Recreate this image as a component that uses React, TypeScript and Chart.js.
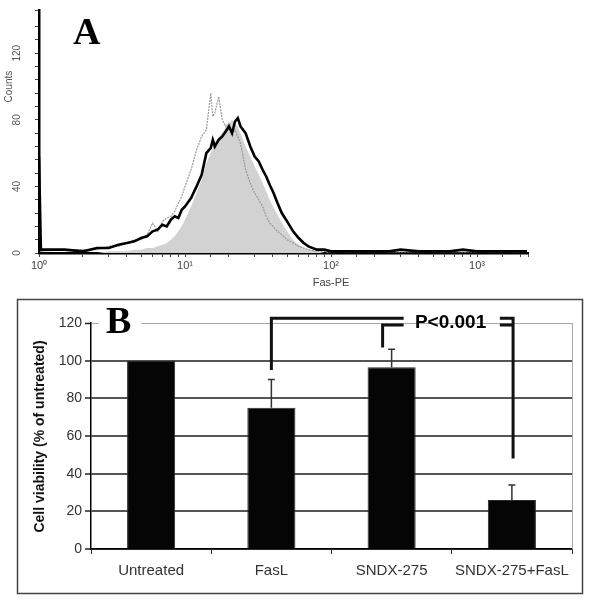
import React, { useEffect, useRef } from 'react';
import { Chart, registerables } from 'chart.js';
Chart.register(...registerables);

// ---------- Panel A : Fas-PE histogram ----------
const channels = [1, 1.03, 1.5, 2, 2.5, 3, 3.5, 4, 4.5, 5,
  5.5, 6, 6.5, 7, 7.5, 8, 8.5, 9, 9.5, 10,
  11, 12, 13, 14, 15, 15.5, 16, 17, 18, 19,
  20, 21, 22, 23, 24, 26, 28, 30, 32, 34,
  36, 38, 40, 43, 46, 50, 55, 60, 65, 70,
  80, 90, 100, 120, 150, 200, 250, 300, 400, 500,
  650, 800, 1000, 1500, 2200];

const solidCounts = [58, 2, 2, 1, 3, 3, 5, 6, 7, 9,
  10, 13, 14, 17, 16, 20, 22, 21, 26, 28,
  33, 40, 47, 60, 63, 68, 64, 68, 70, 73,
  76, 72, 79, 81, 76, 72, 64, 58, 55, 50,
  46, 41, 37, 30, 24, 19, 13, 9, 6, 4,
  2, 2, 1, 1, 1, 1, 1, 2, 1, 1,
  1, 2, 1, 1, 1];

const dottedCounts = [30, 1, 2, 2, 2, 4, 4, 6, 8, 8,
  11, 18, 13, 19, 21, 22, 25, 30, 34, 40,
  50, 62, 70, 74, 96, 82, 84, 94, 80, 76,
  78, 72, 74, 70, 66, 50, 42, 36, 32, 28,
  22, 18, 16, 13, 11, 8, 6, 4, 3, 2,
  1, 1, 0, 0, 0, 0, 0, 0, 0, 0,
  0, 0, 0, 0, 0];

const filledCounts = [0, 0, 0, 0, 0, 1, 1, 1, 2, 2,
  3, 3, 4, 5, 6, 8, 10, 13, 16, 20,
  28, 36, 44, 54, 60, 63, 66, 70, 72, 76,
  78, 80, 78, 76, 72, 64, 58, 52, 47, 42,
  37, 32, 28, 23, 18, 13, 8, 5, 3, 2,
  1, 0, 0, 0, 0, 0, 0, 0, 0, 0,
  0, 0, 0, 0, 0];

const countTickLabels = [0, 40, 80, 120];
const decadeLabels: Record<number, string> = { 1: '10⁰', 10: '10¹', 100: '10²', 1000: '10³' };

// ---------- Panel B : viability bars ----------
const categories = ['Untreated', 'FasL', 'SNDX-275', 'SNDX-275+FasL'];
const viability = [100, 75, 96.5, 26];
const viabilityErr = [0, 15, 9.5, 8];

const SANS = '"Liberation Sans", Arial, sans-serif';
const SERIF = '"Liberation Serif", "Times New Roman", serif';

const toPts = (ys: number[]) => channels.map((c, i) => ({ x: c, y: ys[i] }));

const panelAPlugin = {
  id: 'panelA',
  afterDraw(chart: any) {
    const ctx = chart.ctx;
    const ys = chart.scales.y;
    const xs = chart.scales.x;
    ctx.save();
    ctx.fillStyle = '#555';
    ctx.font = `10px ${SANS}`;
    ctx.textAlign = 'center';
    ctx.textBaseline = 'middle';
    countTickLabels.forEach((v) => {
      ctx.save();
      ctx.translate(17, ys.getPixelForValue(v));
      ctx.rotate(-Math.PI / 2);
      ctx.fillText(String(v), 0, 0);
      ctx.restore();
    });
    ctx.save();
    ctx.translate(9, ys.getPixelForValue(100));
    ctx.rotate(-Math.PI / 2);
    ctx.fillText('Counts', 0, 0);
    ctx.restore();
    ctx.fillStyle = '#444';
    ctx.font = `11px ${SANS}`;
    ctx.fillText('Fas-PE', xs.getPixelForValue(100), 283);
    ctx.fillStyle = '#000';
    ctx.font = `bold 38px ${SERIF}`;
    ctx.textAlign = 'left';
    ctx.textBaseline = 'alphabetic';
    ctx.fillText('A', 73, 44);
    ctx.restore();
  },
};

const panelBPlugin = {
  id: 'panelB',
  afterDatasetsDraw(chart: any) {
    const ctx = chart.ctx;
    const xs = chart.scales.x;
    const ys = chart.scales.y;
    ctx.save();
    ctx.strokeStyle = '#333';
    ctx.lineWidth = 1.5;
    viability.forEach((v, i) => {
      const e = viabilityErr[i];
      if (!e) return;
      const x = xs.getPixelForValue(i);
      const y0 = ys.getPixelForValue(v);
      const y1 = ys.getPixelForValue(v + e);
      ctx.beginPath();
      ctx.moveTo(x, y0);
      ctx.lineTo(x, y1);
      ctx.moveTo(x - 3.5, y1);
      ctx.lineTo(x + 3.5, y1);
      ctx.stroke();
    });
    ctx.restore();
  },
  afterDraw(chart: any) {
    const ctx = chart.ctx;
    const ys = chart.scales.y;
    const area = chart.chartArea;
    const catW = (area.right - area.left) / categories.length;
    const xAt = (p: number) => area.left + (p + 0.5) * catW;
    ctx.save();
    // plot area right edge
    ctx.strokeStyle = '#aaa';
    ctx.lineWidth = 1;
    ctx.beginPath();
    ctx.moveTo(area.right + 0.5, area.top);
    ctx.lineTo(area.right + 0.5, area.bottom);
    ctx.stroke();
    // outer frame
    ctx.strokeStyle = '#444';
    ctx.lineWidth = 1.5;
    ctx.strokeRect(17.5, 299.5, 565, 294);
    // letter B
    ctx.fillStyle = '#fff';
    ctx.fillRect(99, 306, 42, 30);
    ctx.fillStyle = '#000';
    ctx.font = `bold 38px ${SERIF}`;
    ctx.textAlign = 'left';
    ctx.textBaseline = 'alphabetic';
    ctx.fillText('B', 106, 333);
    // significance brackets
    ctx.strokeStyle = '#111';
    ctx.lineWidth = 3;
    ctx.beginPath();
    ctx.moveTo(xAt(1), ys.getPixelForValue(95));
    ctx.lineTo(xAt(1), ys.getPixelForValue(122.5));
    ctx.lineTo(xAt(2.1), ys.getPixelForValue(122.5));
    ctx.moveTo(xAt(1.925), ys.getPixelForValue(107));
    ctx.lineTo(xAt(1.925), ys.getPixelForValue(119));
    ctx.lineTo(xAt(2.1), ys.getPixelForValue(119));
    ctx.moveTo(xAt(2.9), ys.getPixelForValue(122.5));
    ctx.lineTo(xAt(3.01), ys.getPixelForValue(122.5));
    ctx.lineTo(xAt(3.01), ys.getPixelForValue(48));
    ctx.moveTo(xAt(2.9), ys.getPixelForValue(119));
    ctx.lineTo(xAt(3.01), ys.getPixelForValue(119));
    ctx.stroke();
    ctx.font = `bold 19px ${SANS}`;
    ctx.textAlign = 'center';
    ctx.textBaseline = 'middle';
    ctx.fillStyle = '#000';
    ctx.fillText('P<0.001', xAt(2.49), ys.getPixelForValue(120.3));
    // y title
    ctx.save();
    ctx.translate(40, 436.5);
    ctx.rotate(-Math.PI / 2);
    ctx.font = `bold 14px ${SANS}`;
    ctx.fillStyle = '#111';
    ctx.fillText('Cell viability (% of untreated)', 0, 0);
    ctx.restore();
    ctx.restore();
  },
};

export default function App() {
  const refA = useRef<HTMLCanvasElement>(null);
  const refB = useRef<HTMLCanvasElement>(null);

  useEffect(() => {
    const chartA = new Chart(refA.current as HTMLCanvasElement, {
      type: 'line',
      data: {
        datasets: [
          {
            label: 'solid',
            data: toPts(solidCounts),
            borderColor: '#000',
            borderWidth: 2.6,
            pointRadius: 0,
            fill: false,
            order: 1,
          },
          {
            label: 'dotted',
            data: toPts(dottedCounts),
            borderColor: '#9a9a9a',
            borderWidth: 1.2,
            borderDash: [2, 1],
            pointRadius: 0,
            fill: false,
            order: 2,
          },
          {
            label: 'filled',
            data: toPts(filledCounts),
            borderColor: '#d2d2d2',
            backgroundColor: '#d2d2d2',
            borderWidth: 0,
            pointRadius: 0,
            fill: 'origin',
            order: 3,
          },
        ],
      },
      options: {
        responsive: false,
        animation: false,
        devicePixelRatio: 1,
        layout: { padding: { left: 0, right: 72, top: 10, bottom: 0 } },
        plugins: { legend: { display: false }, tooltip: { enabled: false } },
        scales: {
          x: {
            type: 'logarithmic',
            min: 1,
            max: 2234,
            grid: { display: true, drawOnChartArea: false, tickLength: 4, color: '#444', lineWidth: 1 },
            border: { display: true, color: '#000', width: 2.5 },
            ticks: {
              autoSkip: false,
              maxRotation: 0,
              minRotation: 0,
              padding: 2,
              color: '#444',
              font: { size: 11, family: SANS },
              callback: (v: any) => decadeLabels[Number(v)] ?? '',
            },
            afterFit: (s: any) => { s.height = 347; },
          },
          y: {
            min: 0,
            max: 146,
            ticks: { stepSize: 8, display: false },
            grid: { display: true, drawOnChartArea: false, tickLength: 4, color: '#444', lineWidth: 1 },
            border: { display: true, color: '#000', width: 2.5 },
            afterFit: (s: any) => { s.width = 39; },
          },
        },
      },
      plugins: [panelAPlugin],
    } as any);

    const chartB = new Chart(refB.current as HTMLCanvasElement, {
      type: 'bar',
      data: {
        labels: categories,
        datasets: [
          {
            label: 'Cell viability',
            data: viability,
            backgroundColor: '#050505',
            borderColor: '#2a2a2a',
            borderWidth: 1,
            barPercentage: 0.4,
            categoryPercentage: 1,
          },
        ],
      },
      options: {
        responsive: false,
        animation: false,
        devicePixelRatio: 1,
        layout: { padding: { left: 21, right: 28, top: 323, bottom: 0 } },
        plugins: { legend: { display: false }, tooltip: { enabled: false } },
        scales: {
          x: {
            grid: { display: true, drawOnChartArea: false, tickLength: 5, color: '#333', lineWidth: 1 },
            border: { color: '#000', width: 1.5 },
            ticks: { autoSkip: false, maxRotation: 0, minRotation: 0, padding: 8, color: '#333', font: { size: 15, family: SANS } },
            afterFit: (s: any) => { s.height = 51; },
          },
          y: {
            min: 0,
            max: 120,
            ticks: { stepSize: 20, padding: 3, color: '#333', font: { size: 14, family: SANS } },
            grid: {
              color: (c: any) => (c.tick && c.tick.value === 120 ? '#aaa' : '#555'),
              lineWidth: (c: any) => (c.tick && c.tick.value === 120 ? 1 : 2),
              tickColor: '#222',
              tickWidth: 1.5,
              tickLength: 6,
            },
            border: { color: '#000', width: 1.5 },
            afterFit: (s: any) => { s.width = 70; },
          },
        },
      },
      plugins: [panelBPlugin],
    } as any);

    return () => {
      chartA.destroy();
      chartB.destroy();
    };
  }, []);

  return (
    <div style={{ position: 'fixed', left: 0, top: 0, width: 600, height: 600, background: '#fff' }}>
      <canvas ref={refA} width={600} height={600} style={{ position: 'absolute', left: 0, top: 0 }} />
      <canvas ref={refB} width={600} height={600} style={{ position: 'absolute', left: 0, top: 0 }} />
    </div>
  );
}
